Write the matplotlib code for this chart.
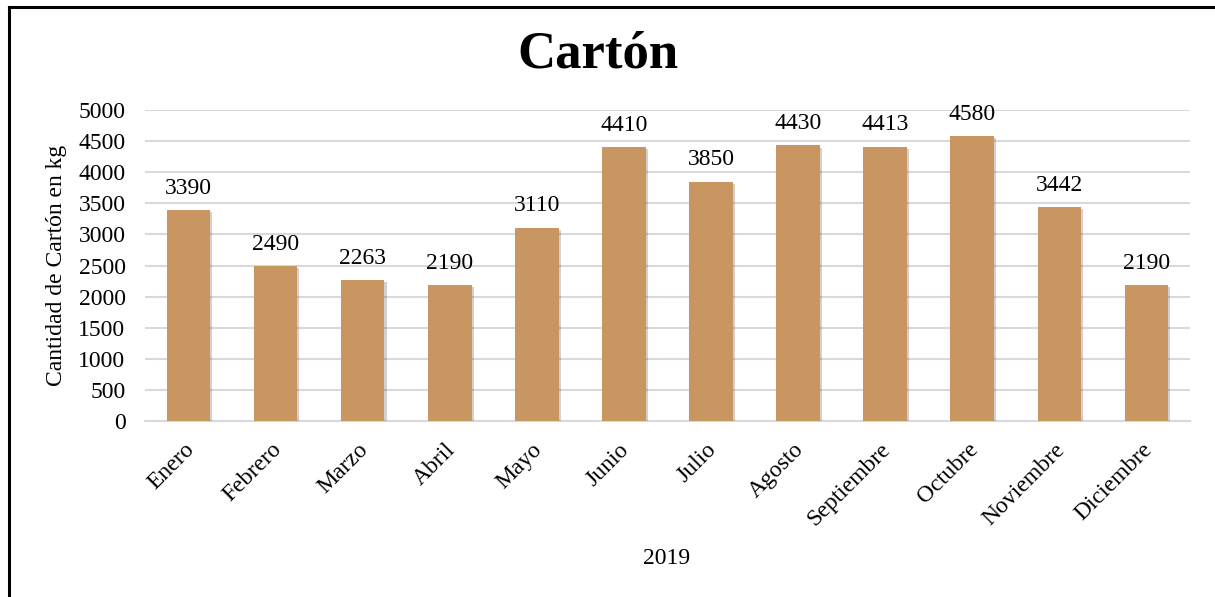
import matplotlib.pyplot as plt
import matplotlib.patheffects as pe
import matplotlib.transforms as mtransforms
from matplotlib.lines import Line2D

plt.rcParams['font.family'] = ['Liberation Serif', 'DejaVu Serif']

MONTHS = ['Enero', 'Febrero', 'Marzo', 'Abril', 'Mayo', 'Junio', 'Julio',
          'Agosto', 'Septiembre', 'Octubre', 'Noviembre', 'Diciembre']
CARTON_KG = [3390, 2490, 2263, 2190, 3110, 4410, 3850, 4430, 4413, 4580, 3442, 2190]
YEAR = '2019'

BAR_COLOR = '#C99662'
GRID_COLOR = '#D9D9D9'

fig = plt.figure(figsize=(12.15, 5.97), dpi=100)
ax = fig.add_axes([0.1193, 0.2948, 0.8601, 0.5209])

x = range(len(MONTHS))
bars = ax.bar(x, CARTON_KG, width=0.5, color=BAR_COLOR, zorder=3)
for b in bars:
    b.set_path_effects([pe.SimplePatchShadow(offset=(1.5, -1.5), alpha=0.22), pe.Normal()])

for xi, v in zip(x, CARTON_KG):
    ax.annotate(str(v), (xi, v), xytext=(0, 8), textcoords='offset points',
                ha='center', va='bottom', fontsize=17)

ax.set_xlim(-0.5, len(MONTHS) - 0.5)
ax.set_ylim(0, 5000)
ax.set_yticks(range(0, 5001, 500))
ax.yaxis.grid(True, color=GRID_COLOR, linewidth=1.5, zorder=0)
ax.set_axisbelow(True)

for side in ['top', 'right', 'left']:
    ax.spines[side].set_visible(False)
ax.spines['bottom'].set_color(GRID_COLOR)
ax.spines['bottom'].set_linewidth(1.5)

ax.tick_params(axis='both', length=0, labelsize=17)
ax.tick_params(axis='y', pad=14)
ax.set_xticks(list(x))
ax.set_xticklabels(MONTHS, rotation=45, ha='right', rotation_mode='anchor')
ax.tick_params(axis='x', pad=13)
# nudge the slanted month names a little to the left
shift = mtransforms.ScaledTranslation(-5 / 100, 0, fig.dpi_scale_trans)
for lbl in ax.get_xticklabels():
    lbl.set_transform(lbl.get_transform() + shift)

ax.set_ylabel('Cantidad de Cartón en kg', fontsize=17)
ax.yaxis.set_label_coords(-0.075, 0.5)
fig.text(0.549, 0.065, YEAR, ha='center', va='center', fontsize=17)
fig.text(0.492, 0.908, 'Cartón', ha='center', va='center', fontsize=38, fontweight='bold')

# frame drawn on the left and top edges only
fig.add_artist(Line2D([0.0075, 0.0075], [0, 0.988], transform=fig.transFigure, color='black', linewidth=2.2))
fig.add_artist(Line2D([0.0075, 1.0], [0.988, 0.988], transform=fig.transFigure, color='black', linewidth=2.2))

fig.savefig('out.png', dpi=100)
